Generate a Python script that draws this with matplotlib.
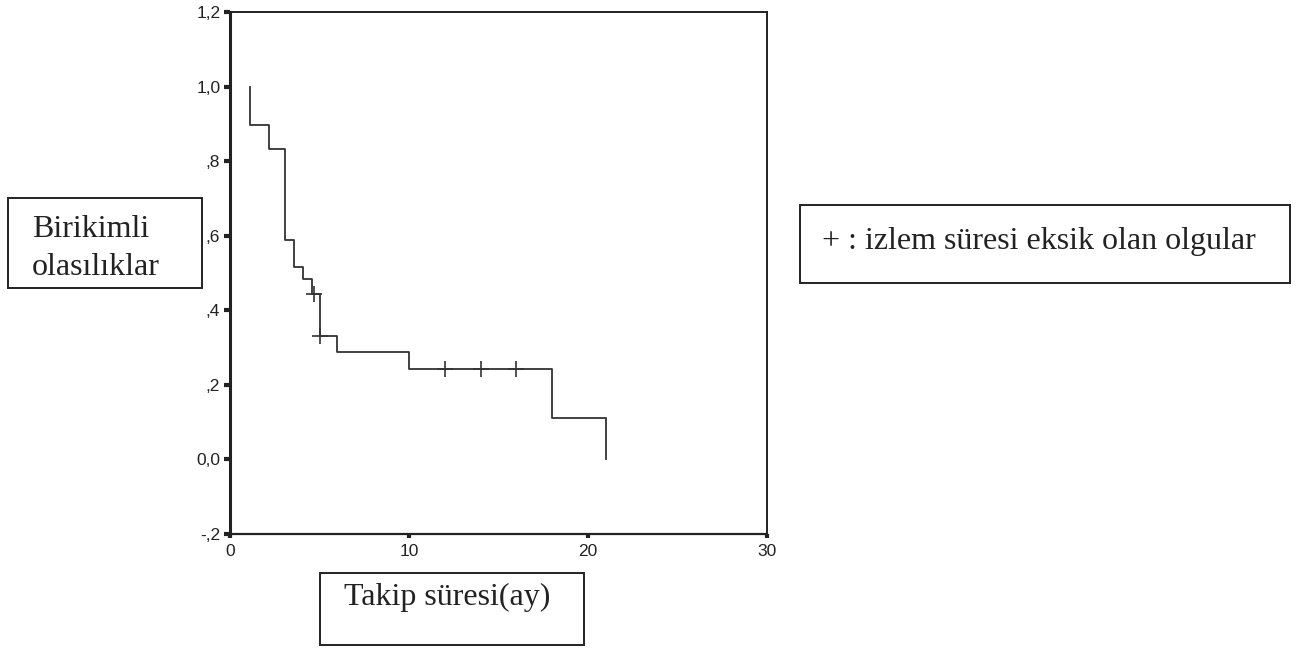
import numpy as np
import matplotlib
matplotlib.use('Agg')
import matplotlib.pyplot as plt
import matplotlib.patches as patches

# olay zamanları (ay) ve birikimli olasılıklar
event_times = [1.1, 2.2, 3.1, 3.6, 4.1, 4.6, 5.0, 6.0, 10.0, 18.0, 21.0]
survival = [0.897, 0.832, 0.589, 0.516, 0.484, 0.443, 0.330, 0.287, 0.243, 0.111, 0.0]
start_value = 1.0

# izlem süresi eksik olan olgular
censor_times = [4.7, 5.0, 12.0, 14.0, 16.0]

y_ticks = [-0.2, 0.0, 0.2, 0.4, 0.6, 0.8, 1.0, 1.2]
y_tick_labels = ['-,2', '0,0', ',2', ',4', ',6', ',8', '1,0', '1,2']
x_ticks = [0, 10, 20, 30]
x_tick_labels = ['0', '10', '20', '30']

ylabel_lines = ['Birikimli', 'olasılıklar']
xlabel_text = 'Takip süresi(ay)'
legend_text = '+ : izlem süresi eksik olan olgular'

W, H = 1297, 654
fig = plt.figure(figsize=(W / 100, H / 100), dpi=100)
fig.patch.set_facecolor('white')


def fx(px):
    return px / W


def fy(py):
    return 1 - py / H


ax = fig.add_axes([fx(230), fy(534), fx(767) - fx(230), fy(12) - fy(534)])

# basamak eğrisi
xs = [event_times[0]] + event_times
ys = [start_value] + survival
ax.step(xs, ys, where='post', color='#333333', lw=1.3)

# sansürlü gözlemler
t_arr = np.array(event_times)
s_arr = np.array(survival)
censor_vals = []
for t in censor_times:
    idx = np.searchsorted(t_arr, t, side='right') - 1
    censor_vals.append(s_arr[idx] if idx >= 0 else start_value)
ax.plot(censor_times, censor_vals, linestyle='none', marker='+', markersize=11,
        markeredgewidth=1.2, color='#333333')

ax.set_xlim(0, 30)
ax.set_ylim(-0.2, 1.2)
ax.set_yticks(y_ticks)
ax.set_yticklabels(y_tick_labels)
ax.set_xticks(x_ticks)
ax.set_xticklabels(x_tick_labels)

for lbl in ax.get_yticklabels() + ax.get_xticklabels():
    lbl.set_fontfamily('Liberation Sans')
    lbl.set_fontsize(12.5)
    lbl.set_color('#222222')

ax.tick_params(axis='y', direction='out', length=4, width=3, pad=3, color='#222222')
ax.tick_params(axis='x', direction='out', length=3, width=3, pad=4, color='#222222')

ax.spines['left'].set_linewidth(2.2)
ax.spines['bottom'].set_linewidth(1.6)
ax.spines['top'].set_linewidth(1.4)
ax.spines['right'].set_linewidth(1.4)
for s in ax.spines.values():
    s.set_color('#222222')


def frame(x0, y0, x1, y1):
    rect = patches.Rectangle((fx(x0), fy(y1)), fx(x1) - fx(x0), fy(y0) - fy(y1),
                             transform=fig.transFigure, fill=False,
                             edgecolor='#222222', lw=1.4)
    fig.patches.append(rect)


def label(tx, ty, text, ha='left'):
    fig.text(fx(tx), fy(ty), text, ha=ha, va='baseline', fontsize=23,
             family='Liberation Serif', color='#222222')


# y ekseni etiketi
frame(8, 198, 202, 288)
label(32, 237, ylabel_lines[0])
label(32, 275, ylabel_lines[1])

# açıklama
frame(800, 205, 1290, 283)
label(822, 249, legend_text)

# x ekseni etiketi
frame(320, 573, 584, 645)
label(447, 605, xlabel_text, ha='center')

fig.savefig('out.png', dpi=100)
